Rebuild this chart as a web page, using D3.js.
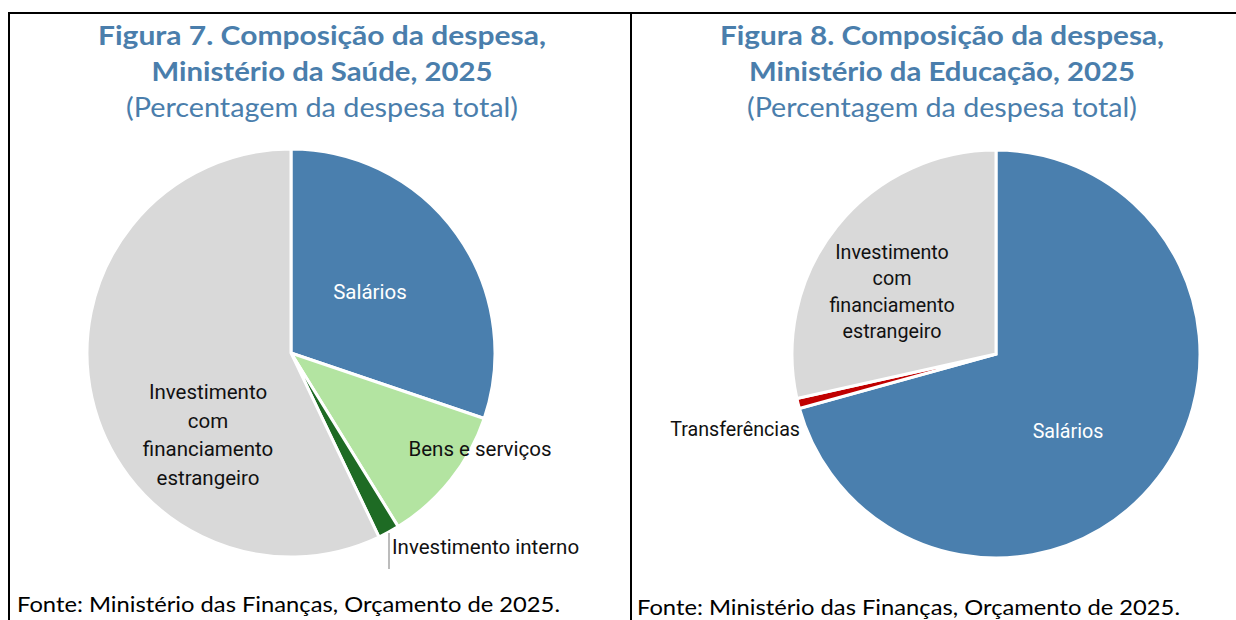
<!DOCTYPE html>
<html>
<head>
<meta charset="utf-8">
<script src="https://cdn.jsdelivr.net/npm/d3@7"></script>
<style>
  body { margin: 0; background: #fff; }
</style>
</head>
<body>
<div id="chart"></div>
<script>
// Data
var saudeCategorias = ["Salários", "Bens e serviços", "Investimento interno", "Investimento com financiamento estrangeiro"];
var saudeValores = [30.2, 11.0, 1.7, 57.1];
var saudeCores = ["#4a7fae", "#b3e4a1", "#1e6b24", "#d9d9d9"];

var educacaoCategorias = ["Salários", "Transferências", "Investimento com financiamento estrangeiro"];
var educacaoValores = [70.7, 0.8, 28.5];
var educacaoCores = ["#4a7fae", "#c00000", "#d9d9d9"];

var titulos7 = ["Figura 7. Composição da despesa,", "Ministério da Saúde, 2025"];
var titulos8 = ["Figura 8. Composição da despesa,", "Ministério da Educação, 2025"];
var subtitulo = "(Percentagem da despesa total)";
var fonte = "Fonte: Ministério das Finanças, Orçamento de 2025.";

var svgWidth = 1236;
var svgHeight = 620;

var svg = d3.select("#chart")
  .append("svg")
  .attr("width", svgWidth)
  .attr("height", svgHeight);

// Frame lines
var frame = svg.append("g")
  .attr("stroke", "#000")
  .attr("stroke-width", 2);
frame.append("line").attr("x1", 8).attr("x2", svgWidth).attr("y1", 13).attr("y2", 13);
frame.append("line").attr("x1", 9).attr("x2", 9).attr("y1", 12).attr("y2", svgHeight);
frame.append("line").attr("x1", 631).attr("x2", 631).attr("y1", 12).attr("y2", svgHeight);

var titleColor = "#4a7eac";

function drawTitles(cx, lines, widths) {
  svg.append("text")
    .attr("x", cx).attr("y", 45)
    .attr("text-anchor", "middle")
    .style("font-family", "Lato, sans-serif")
    .style("font-weight", "bold")
    .style("font-size", "27px")
    .attr("fill", titleColor)
    .attr("textLength", widths[0])
    .attr("lengthAdjust", "spacingAndGlyphs")
    .text(lines[0]);
  svg.append("text")
    .attr("x", cx).attr("y", 81)
    .attr("text-anchor", "middle")
    .style("font-family", "Lato, sans-serif")
    .style("font-weight", "bold")
    .style("font-size", "27px")
    .attr("fill", titleColor)
    .attr("textLength", widths[1])
    .attr("lengthAdjust", "spacingAndGlyphs")
    .text(lines[1]);
  svg.append("text")
    .attr("x", cx).attr("y", 117)
    .attr("text-anchor", "middle")
    .style("font-family", "Lato, sans-serif")
    .style("font-size", "26px")
    .attr("fill", titleColor)
    .attr("textLength", widths[2])
    .attr("lengthAdjust", "spacingAndGlyphs")
    .text(subtitulo);
}

drawTitles(322, titulos7, [448, 341, 392]);
drawTitles(942, titulos8, [444, 386, 390]);

// Footers
svg.append("text")
  .attr("x", 17).attr("y", 612)
  .style("font-family", "Lato, sans-serif")
  .style("font-size", "22px")
  .attr("fill", "#000")
  .attr("textLength", 543)
  .attr("lengthAdjust", "spacingAndGlyphs")
  .text(fonte);
svg.append("text")
  .attr("x", 637).attr("y", 615)
  .style("font-family", "Lato, sans-serif")
  .style("font-size", "22px")
  .attr("fill", "#000")
  .attr("textLength", 543)
  .attr("lengthAdjust", "spacingAndGlyphs")
  .text(fonte);

var radius = 204;

var pie = d3.pie()
  .sort(null)
  .value(d => d);

var arc = d3.arc()
  .innerRadius(0)
  .outerRadius(radius);

function drawPie(cx, cy, valores, cores) {
  var g = svg.append("g")
    .attr("transform", `translate(${cx}, ${cy})`);
  g.selectAll("path")
    .data(pie(valores))
    .enter()
    .append("path")
    .attr("d", arc)
    .attr("fill", (d, i) => cores[i])
    .attr("stroke", "#fff")
    .attr("stroke-width", 3)
    .attr("stroke-linejoin", "miter");
  return g;
}

var g7 = drawPie(291, 353, saudeValores, saudeCores);
var g8 = drawPie(996, 354, educacaoValores, educacaoCores);

// Label placement (offsets from pie centre), one per category
var labels7 = [
  { lines: ["Salários"], dx: 79, dy: -61, anchor: "middle", color: "#fff" },
  { lines: ["Bens e serviços"], dx: 189, dy: 96, anchor: "middle", color: "#111" },
  { lines: ["Investimento interno"], dx: 101, dy: 194, anchor: "start", color: "#111" },
  { lines: ["Investimento", "com", "financiamento", "estrangeiro"], dx: -83, dy: 82, anchor: "middle", color: "#111" }
];
var labels8 = [
  { lines: ["Salários"], dx: 72, dy: 77, anchor: "middle", color: "#fff" },
  { lines: ["Transferências"], dx: -196, dy: 75, anchor: "end", color: "#111" },
  { lines: ["Investimento", "com", "financiamento", "estrangeiro"], dx: -104, dy: -62, anchor: "middle", color: "#111" }
];

function drawLabels(g, labels, fontSize, lineHeight) {
  labels.forEach(function(l) {
    var t = g.append("text")
      .attr("text-anchor", l.anchor)
      .style("font-family", "Roboto, sans-serif")
      .style("font-size", fontSize + "px")
      .attr("fill", l.color);
    var n = l.lines.length;
    t.selectAll("tspan")
      .data(l.lines)
      .enter()
      .append("tspan")
      .attr("x", l.dx)
      .attr("y", (d, i) => l.dy + (i - (n - 1) / 2) * lineHeight)
      .attr("dominant-baseline", "central")
      .text(d => d);
  });
}

drawLabels(g7, labels7, 20.5, 28.5);
drawLabels(g8, labels8, 19.7, 26.5);

// Leader line for "Investimento interno"
g7.append("line")
  .attr("x1", 98).attr("x2", 98)
  .attr("y1", 180).attr("y2", 216)
  .attr("stroke", "#a6a6a6")
  .attr("stroke-width", 1.5);
</script>
</body>
</html>
